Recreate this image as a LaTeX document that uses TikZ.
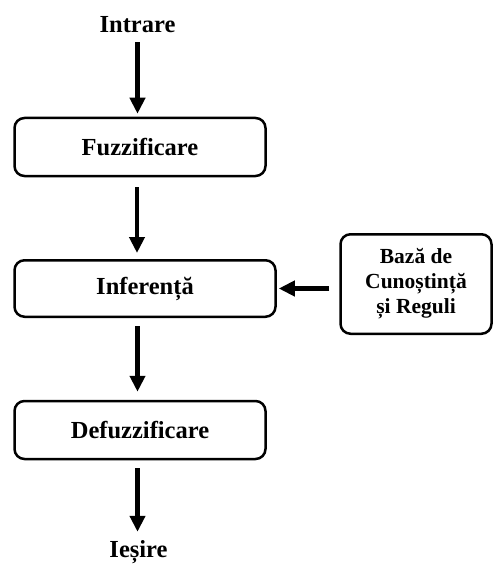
\documentclass[tikz,border=0pt]{standalone}
\usepackage{fontspec}
\setmainfont{Liberation Serif}
\usetikzlibrary{arrows.meta}

\begin{document}
\begin{tikzpicture}[x=1pt,y=-1pt,
  box/.style={draw, line width=2.5pt, rounded corners=10pt, inner sep=0pt,
    minimum width=251pt, minimum height=58pt,
    font=\fontsize{24.5}{25}\selectfont\bfseries},
  lbl/.style={inner sep=0pt, font=\fontsize{24.5}{25}\selectfont\bfseries},
  flow/.style={line width=4.5pt, -{Triangle[width=15pt,length=16pt]}}]
\useasboundingbox (0,0) rectangle (497,564);
% blocks
\node[lbl, anchor=base] (intrare) at (137.5,33) {Intrare};
\node[box] (fuzz) at (140,147) {Fuzzificare};
\node[box, minimum width=261pt, minimum height=56.5pt] (infer) at (145,288.5) {Inferență};
\node[box, minimum width=151pt, minimum height=99.5pt, align=center,
  font=\fontsize{21.5}{25}\selectfont\bfseries] (baza) at (416,284) {Bază de\\Cunoștință\\și Reguli};
\node[box] (defuzz) at (140,430) {Defuzzificare};
\node[lbl, anchor=base] (iesire) at (138.5,557) {Ieșire};
% arrows
\draw[flow, shorten <=9pt, shorten >=3pt] (intrare.south) -- (intrare.south |- fuzz.north);
\draw[flow, shorten <=10pt, shorten >=6pt] ([xshift=-3pt]fuzz.south) -- ([xshift=-3pt]fuzz.south |- infer.north);
\draw[flow, shorten <=8pt, shorten >=8pt] ([xshift=-2.5pt]defuzz.north |- infer.south) -- ([xshift=-2.5pt]defuzz.north);
\draw[flow, shorten <=8pt, shorten >=8pt] ([xshift=-2.5pt]defuzz.south) -- ([xshift=-2.5pt]defuzz.south |- iesire.north);
\draw[flow, shorten <=10pt, shorten >=2pt] (baza.west |- infer.east) -- (infer.east);
\end{tikzpicture}
\end{document}
